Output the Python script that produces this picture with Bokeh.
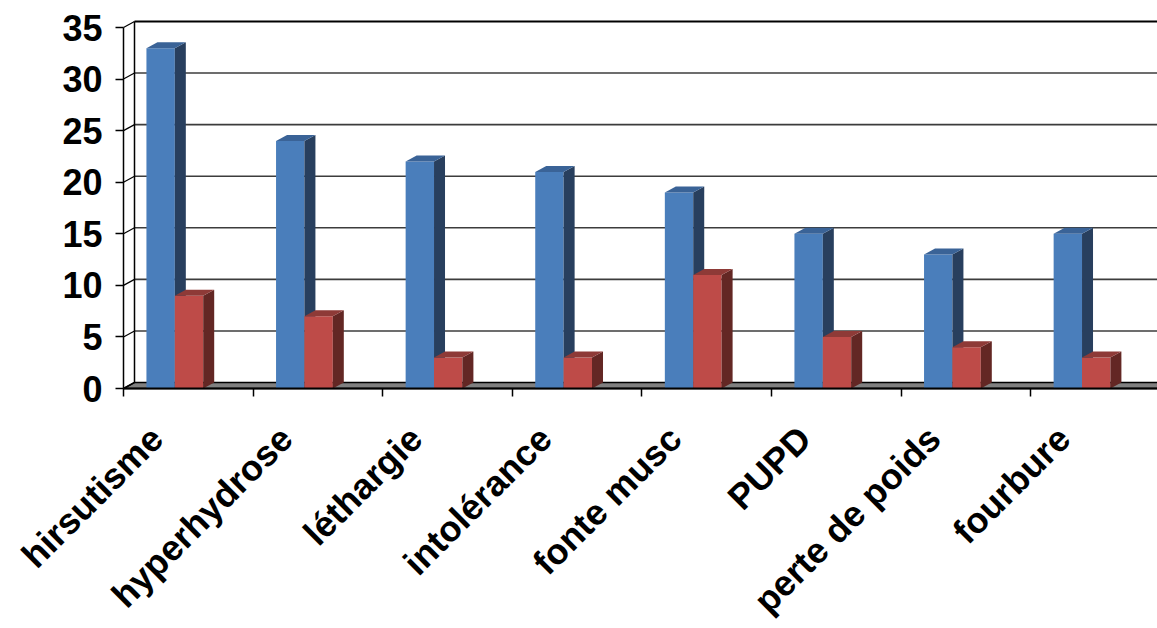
import math
import numpy as np
from bokeh.plotting import figure
from bokeh.models import Range1d, FixedTicker, CustomJSTickFormatter, LinearAxis
from bokeh.embed import file_html
from bokeh.resources import INLINE

categories = ["hirsutisme", "hyperhydrose", "léthargie", "intolérance",
              "fonte musc", "PUPD", "perte de poids", "fourbure"]
series_blue = [33, 24, 22, 21, 19, 15, 13, 15]
series_red = [9, 7, 3, 3, 11, 5, 4, 3]
y_ticks = [0, 5, 10, 15, 20, 25, 30, 35]

W, H = 1157, 628
X0_PX, Y0_PX = 123, 388          # pixel position of the (0, 0) corner
px_x = 129.6                      # pixels per category
px_y = 361 / 35                   # pixels per unit
x_lo, x_hi = -X0_PX / px_x, (W - X0_PX) / px_x
y_lo, y_hi = -(H - Y0_PX) / px_y, Y0_PX / px_y
DX = 11 / px_x
DY = 6 / px_y

p = figure(width=W, height=H, output_backend="svg", toolbar_location=None,
           x_range=Range1d(x_lo, x_hi), y_range=Range1d(y_lo, y_hi),
           min_border=0, min_border_left=0, min_border_right=0,
           min_border_top=0, min_border_bottom=0,
           x_axis_location=None, y_axis_location=None)
p.outline_line_color = None
p.background_fill_color = "white"
p.border_fill_color = "white"
p.grid.visible = False

# floor
p.patch([0, x_hi + 1, x_hi + 1, DX], [0, 0, DY, DY], fill_color="#808080",
        line_color="black", line_width=1.5)

# back wall gridlines
inner = [v for v in y_ticks[1:-1]]
p.segment(x0=[DX] * len(inner), y0=[v + DY for v in inner],
          x1=[x_hi + 1] * len(inner), y1=[v + DY for v in inner],
          line_color="#3c3c3c", line_width=1.6)
p.segment(x0=[DX], y0=[35 + DY], x1=[x_hi + 1], y1=[35 + DY],
          line_color="black", line_width=2)
# back wall vertical edge
p.segment(x0=[DX], y0=[DY], x1=[DX], y1=[35 + DY], line_color="black", line_width=1.5)
# depth lines from front axis ticks to back wall
p.segment(x0=[0] * len(y_ticks), y0=y_ticks, x1=[DX] * len(y_ticks),
          y1=[v + DY for v in y_ticks], line_color="black", line_width=1.2)

BW = 0.219
OFF = 0.177


def bars(values, start, front, side, top):
    idx = np.arange(len(values))
    vals = np.array(values, dtype=float)
    x0 = idx + start
    x1 = x0 + BW
    p.quad(left=x0, right=x1, bottom=0, top=vals, fill_color=front, line_color=None)
    p.patches(xs=[[a, a + DX, a + DX, a] for a in x1],
              ys=[[0, DY, v + DY, v] for v in vals],
              fill_color=side, line_color=None)
    p.patches(xs=[[a, b, b + DX, a + DX] for a, b in zip(x0, x1)],
              ys=[[v, v, v + DY, v + DY] for v in vals],
              fill_color=top, line_color=None)


bars(series_blue, OFF, "#4A7EBB", "#283F5E", "#3A6397")
bars(series_red, OFF + BW, "#BE4B48", "#632724", "#8E3A37")

FONT = "Liberation Sans"
yaxis = LinearAxis(ticker=FixedTicker(ticks=y_ticks), bounds=(0, 35), fixed_location=0,
                   axis_line_color="black", axis_line_width=1.5,
                   major_tick_out=8, major_tick_in=0, major_tick_line_color="black",
                   major_tick_line_width=1.5, minor_tick_line_color=None,
                   major_label_text_font=FONT, major_label_text_font_style="bold",
                   major_label_text_font_size="36px", major_label_text_color="black",
                   major_label_standoff=13)
p.add_layout(yaxis, "left")

label_pos = [i + 0.255 for i in range(len(categories))]
xaxis = LinearAxis(ticker=FixedTicker(ticks=label_pos,
                                      minor_ticks=list(range(len(categories) + 1))),
                   formatter=CustomJSTickFormatter(args=dict(names=categories),
                                                   code="return names[index]"),
                   fixed_location=0, bounds=(0, x_hi + 1),
                   major_label_orientation=math.pi / 4,
                   major_tick_line_color=None, major_tick_out=0, major_tick_in=0,
                   minor_tick_out=8, minor_tick_in=0, minor_tick_line_color="black",
                   minor_tick_line_width=1.5,
                   axis_line_color="black", axis_line_width=2,
                   major_label_text_font=FONT, major_label_text_font_style="bold",
                   major_label_text_font_size="36px", major_label_text_color="black",
                   major_label_standoff=36)
p.add_layout(xaxis, "below")

open("out.html", "w").write(file_html(p, INLINE))
